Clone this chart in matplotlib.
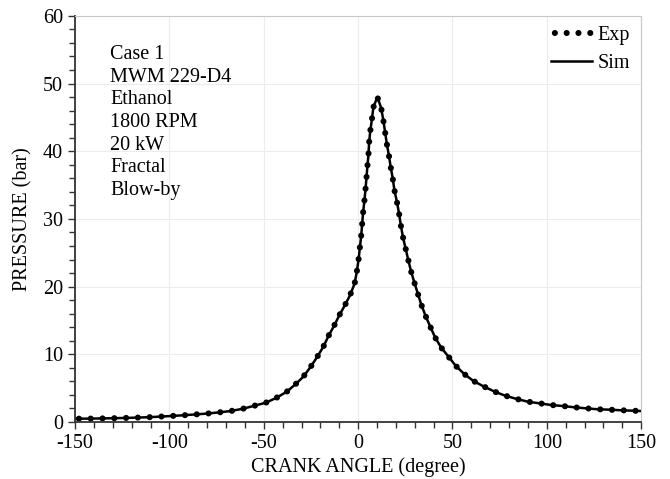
import matplotlib.pyplot as plt
from matplotlib.ticker import MultipleLocator

plt.rcParams['font.family'] = ['Liberation Serif', 'DejaVu Serif']
plt.rcParams['axes.unicode_minus'] = False

# datos
angulo = [-150, -147.9, -141.7, -135.5, -129.3, -123.2, -117.0, -110.8,
          -104.6, -98.3, -92.3, -86.2, -79.9, -73.7, -67.5, -61.2, -55.0,
          -48.9, -43.1, -37.8, -33.2, -29.0, -25.1, -21.6, -18.4, -15.7,
          -12.7, -9.9, -6.9, -4.2, -1.8, -0.7, 0.2, 0.9, 1.6, 2.1, 2.6, 3.3,
          3.9, 4.4, 4.9, 5.5, 5.8, 6.4, 7.3, 8.1, 10.2, 12.2, 13.4, 14.3,
          15.2, 16.3, 17.3, 18.4, 19.2, 20.5, 21.7, 22.6, 23.7, 25.1, 26.6,
          28.1, 29.8, 31.6, 33.4, 35.7, 38.2, 40.8, 44.0, 47.9, 51.8, 56.2,
          61.0, 66.4, 72.4, 77.9, 84.1, 89.9, 96.1, 102.3, 108.5, 114.6,
          120.8, 127.0, 133.2, 139.4, 145.6, 150]

p_exp = [0.48, 0.49, 0.50, 0.53, 0.56, 0.60, 0.65, 0.71, 0.80, 0.90, 1.00,
         1.12, 1.25, 1.42, 1.62, 1.95, 2.40, 2.85, 3.60, 4.48, 5.57, 6.70,
         8.17, 9.65, 11.13, 12.71, 14.23, 15.80, 17.30, 18.77, 20.50, 22.20,
         23.90, 25.70, 27.40, 29.10, 30.80, 32.60, 34.30, 36.00, 37.70,
         39.50, 41.20, 42.90, 44.70, 46.50, 48.00, 46.40, 44.50, 42.80,
         41.10, 39.40, 37.60, 35.90, 34.30, 32.60, 30.80, 29.10, 27.40,
         25.70, 23.90, 22.20, 20.60, 19.00, 17.40, 15.70, 14.10, 12.50,
         11.00, 9.65, 8.28, 7.10, 6.08, 5.27, 4.48, 3.89, 3.40, 3.00, 2.76,
         2.51, 2.36, 2.17, 2.02, 1.88, 1.82, 1.73, 1.67, 1.62]

p_sim = list(p_exp)  # la simulacion se superpone a los datos

texto = 'Case 1\nMWM 229-D4\nEthanol\n1800 RPM\n20 kW\nFractal\nBlow-by'

fs = 14.5

fig = plt.figure(figsize=(6.7, 4.79), dpi=100)
ax = fig.add_axes([0.112, 0.119, 0.845, 0.848])

ax.plot(angulo, p_exp, color='black', lw=4.4,
        linestyle=(1.3, (0.01, 1.92)), dash_capstyle='round', label='Exp')
ax.plot(angulo, p_sim, color='black', lw=1.8, label='Sim')

ax.set_xlim(-150, 150)
ax.set_ylim(0, 60)
ax.xaxis.set_major_locator(MultipleLocator(50))
ax.xaxis.set_minor_locator(MultipleLocator(10))
ax.yaxis.set_major_locator(MultipleLocator(10))
ax.yaxis.set_minor_locator(MultipleLocator(2))

ax.grid(which='major', color='#ececec', lw=0.8)
ax.set_axisbelow(True)

for lado in ['top', 'right']:
    ax.spines[lado].set_color('#c8c8c8')
for lado in ['left', 'bottom']:
    ax.spines[lado].set_color('#333333')
    ax.spines[lado].set_linewidth(1.3)

ax.tick_params(which='both', direction='out', colors='#333333',
               labelcolor='black', labelsize=fs, width=1)
ax.tick_params(which='major', length=5)
ax.tick_params(which='minor', length=4)

ax.set_xlabel('CRANK ANGLE (degree)', fontsize=fs, labelpad=3)
ax.set_ylabel('PRESSURE (bar)', fontsize=fs, labelpad=8)

ax.text(0.062, 0.928, texto, transform=ax.transAxes, va='top', ha='left',
        fontsize=fs, linespacing=1.26)

ax.legend(loc='upper right', bbox_to_anchor=(0.995, 0.996), frameon=False,
          fontsize=fs, handlelength=2.0, handletextpad=0.3, borderaxespad=0,
          labelspacing=0.45)

fig.savefig('out.png', dpi=100)
